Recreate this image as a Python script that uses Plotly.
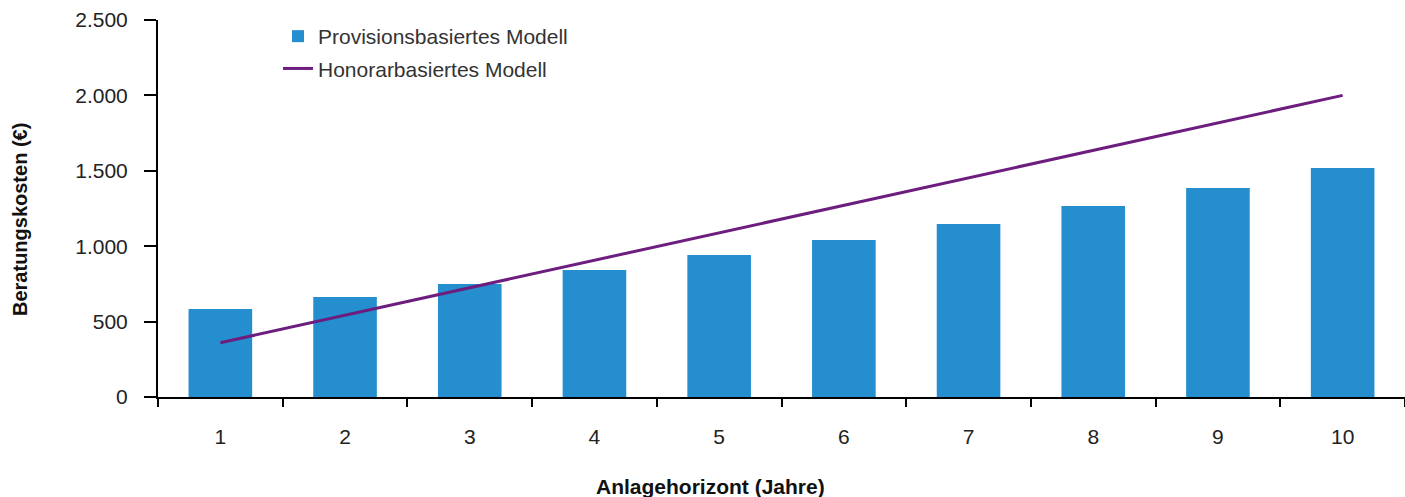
import plotly.graph_objects as go

years = ["1", "2", "3", "4", "5", "6", "7", "8", "9", "10"]
provision = [583, 663, 750, 842, 942, 1041, 1148, 1267, 1386, 1518]
honorar = [360, 542, 724, 906, 1088, 1270, 1452, 1634, 1816, 2000]
y_ticks = [0, 500, 1000, 1500, 2000, 2500]

BAR = "#248ECE"
LINE = "#6C1D7E"
FONT = "Liberation Sans, Arial, sans-serif"

fig = go.Figure()
fig.add_trace(go.Bar(x=years, y=provision, name="Provisionsbasiertes Modell",
                     marker=dict(color=BAR, line=dict(width=0)), legendgroup="a"))
fig.add_trace(go.Scatter(x=years, y=honorar, name="Honorarbasiertes Modell", mode="lines",
                         line=dict(color=LINE, width=3), legendgroup="b"))

fig.update_layout(
    width=1405, height=497,
    margin=dict(l=158, r=0, t=20, b=100),
    plot_bgcolor="white", paper_bgcolor="white",
    separators=",.",
    bargap=0.49,
    font=dict(family=FONT, size=21, color="#222222"),
    showlegend=True,
    legend=dict(x=(278 - 158) / 1247, y=1.0 + 4 / 377, xanchor="left", yanchor="top",
                font=dict(size=21, color="#333333"), bgcolor="rgba(0,0,0,0)",
                traceorder="grouped", tracegroupgap=2, itemwidth=30),
    xaxis=dict(type="category", showline=True, linecolor="black", linewidth=2,
               ticks="outside", tickson="boundaries", ticklen=8, tickwidth=2, tickcolor="black",
               ticklabelstandoff=20, showgrid=False, zeroline=False,
               tickfont=dict(size=21, color="#222222")),
    yaxis=dict(range=[0, 2500], tickvals=y_ticks, separatethousands=True,
               showline=True, linecolor="black", linewidth=2,
               ticks="outside", ticklen=12, tickwidth=2, tickcolor="black",
               ticklabelstandoff=12, showgrid=False, zeroline=False,
               tickfont=dict(size=21, color="#222222")),
    annotations=[
        dict(text="<b>Anlagehorizont (Jahre)</b>", xref="paper", yref="paper",
             x=(710 - 158) / 1247, y=-(486 - 397) / 377, showarrow=False,
             xanchor="center", yanchor="middle", font=dict(size=21, color="#111111")),
        dict(text="<b>Beratungskosten (€)</b>", xref="paper", yref="paper",
             x=-(158 - 20) / 1247, y=(397 - 220) / 377, showarrow=False, textangle=-90,
             xanchor="center", yanchor="middle", font=dict(size=20, color="#111111")),
    ],
)

fig.write_html("out.html", config={"displayModeBar": False},
               post_script="document.body.style.margin='0';document.body.style.padding='0';")
